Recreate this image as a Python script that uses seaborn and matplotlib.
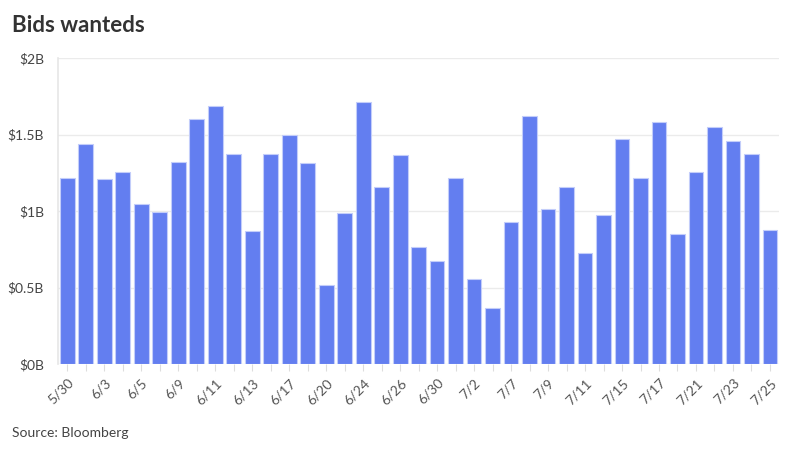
import matplotlib
matplotlib.use('Agg')
import matplotlib.pyplot as plt
import seaborn as sns
import pandas as pd

# bids wanted volume per trading day, in $ billions
dates = ['5/30', '6/2', '6/3', '6/4', '6/5', '6/6', '6/9', '6/10', '6/11', '6/12',
         '6/13', '6/16', '6/17', '6/18', '6/20', '6/23', '6/24', '6/25', '6/26', '6/27',
         '6/30', '7/1', '7/2', '7/3', '7/7', '7/8', '7/9', '7/10', '7/11', '7/14',
         '7/15', '7/16', '7/17', '7/18', '7/21', '7/22', '7/23', '7/24', '7/25']
volume = [1.217, 1.437, 1.210, 1.256, 1.047, 0.997, 1.322, 1.601, 1.686, 1.372,
          0.870, 1.374, 1.496, 1.317, 0.519, 0.988, 1.710, 1.154, 1.367, 0.766,
          0.674, 1.215, 0.554, 0.364, 0.931, 1.623, 1.014, 1.158, 0.726, 0.973,
          1.474, 1.213, 1.583, 0.853, 1.256, 1.549, 1.455, 1.372, 0.875]
y_ticks = [0, 0.5, 1, 1.5, 2]
y_labels = ['$0B', '$0.5B', '$1B', '$1.5B', '$2B']

df = pd.DataFrame({'date': dates, 'volume': volume})

sns.set_theme(style='white')
plt.rcParams['font.family'] = ['Lato', 'DejaVu Sans']

fig = plt.figure(figsize=(8, 4.5), dpi=100)
ax = fig.add_axes([0.0725, 0.191, 0.9015, 0.68])

sns.barplot(data=df, x='date', y='volume', color='#637ef0', saturation=1,
            width=0.8, edgecolor='#c3cdfa', linewidth=0.8, ax=ax)

ax.set_ylim(0, 2)
ax.set_xlim(-0.5, len(dates) - 0.5)
ax.set_yticks(y_ticks)
ax.set_yticklabels(y_labels)
ax.set_xticks(range(len(dates)))
ax.set_xticklabels([d if i % 2 == 0 else '' for i, d in enumerate(dates)],
                   rotation=45, ha='right', rotation_mode='anchor')
ax.set_xlabel('')
ax.set_ylabel('')

ax.yaxis.grid(True, color='#ebebeb', linewidth=1)
ax.set_axisbelow(True)
for s in ['top', 'right', 'bottom']:
    ax.spines[s].set_visible(False)
ax.spines['left'].set_color('#e6e6e6')
ax.spines['left'].set_linewidth(1.2)

ax.tick_params(axis='y', length=0, pad=10, labelsize=10, labelcolor='#444444')
ax.tick_params(axis='x', bottom=True, length=5, width=0.8, color='#dddddd',
               pad=4, labelsize=10, labelcolor='#555555')

fig.text(0.015, 0.943, 'Bids wanteds', fontsize=16, fontweight='bold',
         color='#333333', va='center', ha='left')
fig.text(0.015, 0.037, 'Source: Bloomberg', fontsize=10, color='#444444',
         va='center', ha='left')

fig.savefig('out.png', dpi=100)
